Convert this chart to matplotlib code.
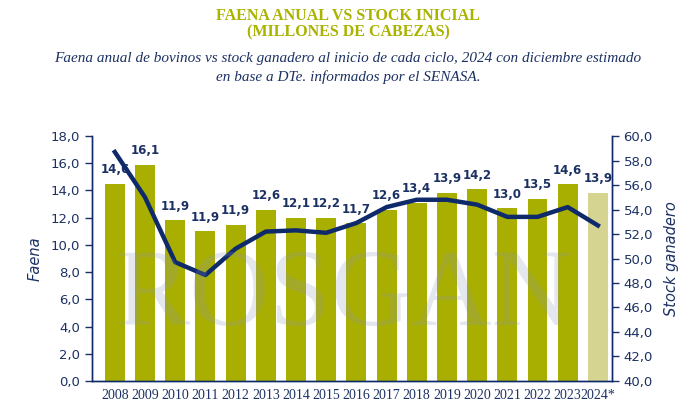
import matplotlib
matplotlib.use("Agg")
import matplotlib.pyplot as plt
from matplotlib.ticker import FuncFormatter

years = ["2008", "2009", "2010", "2011", "2012", "2013", "2014", "2015", "2016",
         "2017", "2018", "2019", "2020", "2021", "2022", "2023", "2024*"]
faena = [14.5, 15.9, 11.8, 11.0, 11.5, 12.6, 12.0, 12.0, 11.6,
         12.6, 13.1, 13.85, 14.1, 12.7, 13.4, 14.45, 13.85]
faena_labels = ["14,6", "16,1", "11,9", "11,9", "11,9", "12,6", "12,1", "12,2", "11,7",
                "12,6", "13,4", "13,9", "14,2", "13,0", "13,5", "14,6", "13,9"]
stock = [58.7, 55.0, 49.7, 48.65, 50.8, 52.2, 52.3, 52.1, 52.9,
         54.2, 54.8, 54.8, 54.4, 53.4, 53.4, 54.2, 52.7]

OLIVE = "#A9AF00"
OLIVE_LIGHT = "#D5D591"
NAVY = "#0F2A6B"
TEXT = "#1C3163"
TITLE = "#AAB300"

fig = plt.figure(figsize=(6.96, 4.20), dpi=100)
ax = fig.add_axes([0.132, 0.093, 0.747, 0.583])
ax2 = ax.twinx()

x = list(range(len(years)))
colors = [OLIVE] * (len(years) - 1) + [OLIVE_LIGHT]
ax.bar(x, faena, width=0.66, color=colors, zorder=2)
for xi, v, lab in zip(x, faena, faena_labels):
    ax.text(xi, v + 0.55, lab, ha="center", va="bottom", fontsize=8.5,
            fontweight="bold", color=TEXT, zorder=5)

ax2.plot(x, stock, color=NAVY, lw=3.2, solid_joinstyle="round", zorder=4)

ax.set_xlim(-0.76, 16.46)
ax.set_ylim(0, 18)
ax.set_yticks([i * 2 for i in range(10)])
ax2.set_ylim(40, 60)
ax2.set_yticks([40 + i * 2 for i in range(11)])
fmt = FuncFormatter(lambda v, p: f"{v:.1f}".replace(".", ","))
ax.yaxis.set_major_formatter(fmt)
ax2.yaxis.set_major_formatter(fmt)
ax.set_xticks(x)
ax.set_xticklabels(years, fontfamily="Liberation Serif", fontsize=10, color=TEXT)

for a in (ax, ax2):
    for s in a.spines.values():
        s.set_color(NAVY)
        s.set_linewidth(1.0)
    a.spines["top"].set_visible(False)
    a.tick_params(axis="y", colors=TEXT, labelsize=9.5, length=5, width=1, direction="out")
ax.tick_params(axis="x", length=0, pad=6)
ax.patch.set_visible(False)

ax.set_ylabel("Faena", fontstyle="italic", fontsize=10.5, color=TEXT, labelpad=6)
ax2.set_ylabel("Stock ganadero", fontstyle="italic", fontsize=10.5, color=TEXT, labelpad=8)

# watermark
fig.text(0.495, 0.29, "ROSGAN", fontfamily="Liberation Serif", fontsize=80,
         color="#8A93B5", alpha=0.22, ha="center", va="center", zorder=10)

fig.text(0.5, 0.963, "FAENA ANUAL VS STOCK INICIAL", ha="center", va="center",
         fontfamily="Liberation Serif", fontweight="bold", fontsize=11.5, color=TITLE)
fig.text(0.5, 0.922, "(MILLONES DE CABEZAS)", ha="center", va="center",
         fontfamily="Liberation Serif", fontweight="bold", fontsize=11.5, color=TITLE)
fig.text(0.5, 0.86, "Faena anual de bovinos vs stock ganadero al inicio de cada ciclo, 2024 con diciembre estimado",
         ha="center", va="center", fontfamily="Liberation Serif", fontstyle="italic",
         fontsize=11, color=TEXT)
fig.text(0.5, 0.817, "en base a DTe. informados por el SENASA.",
         ha="center", va="center", fontfamily="Liberation Serif", fontstyle="italic",
         fontsize=11, color=TEXT)

fig.savefig("out.png", dpi=100)
